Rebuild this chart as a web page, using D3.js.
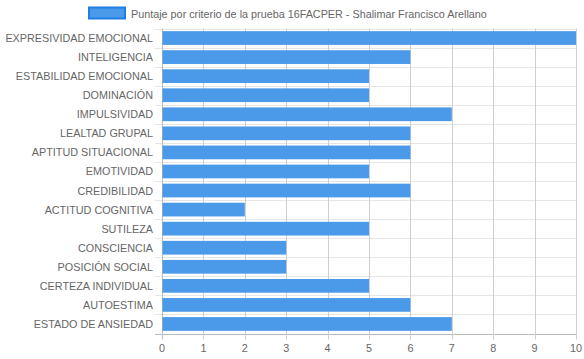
<!DOCTYPE html>
<html><head><meta charset="utf-8">
<script src="https://cdn.jsdelivr.net/npm/d3@7"></script>
<style>html,body{margin:0;padding:0;background:#fff;}svg{display:block;}</style>
</head><body>
<svg id="c" width="584" height="359"></svg>
<script>
const categories = ["EXPRESIVIDAD EMOCIONAL","INTELIGENCIA","ESTABILIDAD EMOCIONAL","DOMINACIÓN","IMPULSIVIDAD","LEALTAD GRUPAL","APTITUD SITUACIONAL","EMOTIVIDAD","CREDIBILIDAD","ACTITUD COGNITIVA","SUTILEZA","CONSCIENCIA","POSICIÓN SOCIAL","CERTEZA INDIVIDUAL","AUTOESTIMA","ESTADO DE ANSIEDAD"];
const values = [10,6,5,5,7,6,6,5,6,2,5,3,3,5,6,7];
const xTicks = [0,1,2,3,4,5,6,7,8,9,10];
const seriesLabel = "Puntaje por criterio de la prueba 16FACPER - Shalimar Francisco Arellano";

(function(){
const svg = d3.select("#c");
const font = "Liberation Sans, Arial, sans-serif";
const fs = 10.8;
const pL = 162, pR = 576, pT = 28.5, pB = 333.5;
const x = d3.scaleLinear().domain([0,10]).range([pL,pR]);
const y = d3.scaleBand().domain(categories).range([pT,pB]);

const bounds = categories.map(c => y(c)).concat([pB]);
svg.append("g").selectAll("line").data(bounds).join("line")
  .attr("x1", pL-7).attr("x2", pR)
  .attr("y1", d => Math.round(d)+0.5).attr("y2", d => Math.round(d)+0.5)
  .attr("stroke", (d,i) => i === bounds.length-1 ? "#bbb" : "#e6e6e6").attr("stroke-width",1);

svg.append("g").selectAll("line").data(xTicks).join("line")
  .attr("x1", d => Math.round(x(d))+0.5).attr("x2", d => Math.round(x(d))+0.5)
  .attr("y1", pT).attr("y2", pB+6)
  .attr("stroke", d => d === 0 ? "#bbb" : "#cfcfcf").attr("stroke-width",1);

const bh = y.bandwidth()*0.72;
svg.append("g").selectAll("rect").data(categories).join("rect")
  .attr("x", x(0)+0.5)
  .attr("y", c => y(c) + (y.bandwidth()-bh)/2)
  .attr("width", (c,i) => x(values[i]) - x(0) - 0.5)
  .attr("height", bh)
  .attr("fill", "#4b99e9");

svg.append("g").selectAll("text").data(categories).join("text")
  .attr("x", pL-9).attr("y", c => y(c)+y.bandwidth()/2)
  .attr("text-anchor","end").attr("dominant-baseline","central")
  .attr("font-family", font).attr("font-size", fs).attr("fill","#666")
  .text(c => c);

svg.append("g").selectAll("text").data(xTicks).join("text")
  .attr("x", d => x(d)).attr("y", 348)
  .attr("text-anchor","middle").attr("dominant-baseline","central")
  .attr("font-family", font).attr("font-size", fs).attr("fill","#666")
  .text(d => d);

svg.append("rect").attr("x", 89).attr("y", 7.5).attr("width", 36).attr("height", 11)
  .attr("fill", "#4b99e9").attr("stroke", "#1f7ee3").attr("stroke-width", 2);
svg.append("text").attr("x", 131).attr("y", 13.5)
  .attr("dominant-baseline","central")
  .attr("font-family", font).attr("font-size", fs).attr("fill","#666")
  .text(seriesLabel);
})();
</script>
</body></html>
